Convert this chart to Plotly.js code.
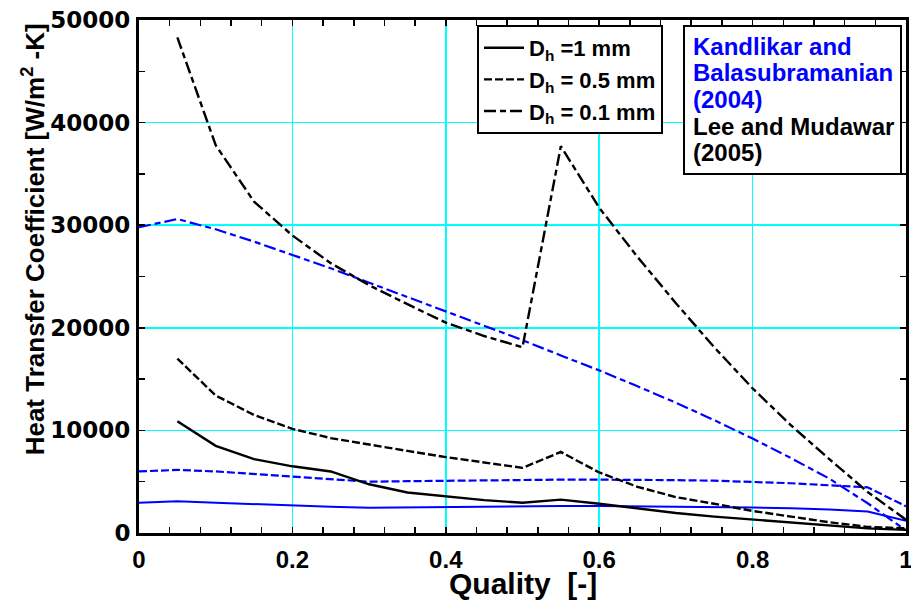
<!DOCTYPE html>
<html>
<head>
<meta charset="utf-8">
<script src="https://cdn.plot.ly/plotly-3.0.1.min.js"></script>
<style>html,body{margin:0;padding:0;background:#fff}#chart{width:911px;height:601px}</style>
</head>
<body>
<div id="chart"></div>
<script>
// Quality values
var xLee = [0.05,0.1,0.15,0.2,0.25,0.3,0.35,0.4,0.45,0.5,0.55,0.6,0.65,0.7,0.75,0.8,0.85,0.9,0.95,1.0];
var xKan = [0,0.05,0.1,0.15,0.2,0.25,0.3,0.35,0.4,0.45,0.5,0.55,0.6,0.65,0.7,0.75,0.8,0.85,0.9,0.95,1.0];

// Lee and Mudawar (2005)
var lee1  = [10900,8500,7200,6500,6000,4750,3950,3550,3200,2950,3250,2850,2400,1950,1600,1300,1000,700,450,300];
var lee05 = [17000,13400,11500,10150,9250,8600,8000,7400,6900,6350,7900,5900,4500,3500,2850,2150,1600,1050,600,450];
var lee01 = [48300,37800,32300,29000,26300,24150,22300,20500,19200,18100,37700,31700,26900,22400,18100,14100,10500,7200,4000,1300];

// Kandlikar and Balasubramanian (2004)
var kan1  = [2950,3100,2950,2800,2700,2550,2450,2500,2550,2600,2620,2640,2620,2600,2570,2530,2480,2420,2300,2100,1200];
var kan05 = [6000,6150,6000,5750,5450,5200,5000,5050,5100,5150,5200,5200,5200,5200,5150,5100,5000,4850,4650,4450,2600];
var kan01 = [29800,30600,29600,28400,27100,25800,24400,23000,21600,20200,18800,17300,15850,14300,12700,11000,9200,7300,5300,2900,250];

var legendNames = ['D<sub>h</sub> =1 mm','D<sub>h</sub> = 0.5 mm','D<sub>h</sub> = 0.1 mm'];
var noteLines = ['Kandlikar and','Balasubramanian','(2004)','Lee and Mudawar','(2005)'];
var noteColors = ['#0000ff','#0000ff','#0000ff','#000000','#000000'];
var xTickVals = [0,0.2,0.4,0.6,0.8,1];
var xTickText = ['0','0.2','0.4','0.6','0.8','1'];
var yTickVals = [0,10000,20000,30000,40000,50000];
var yTickText = ['0','10000','20000','30000','40000','50000'];

var BLUE = '#0000ff', BLACK = '#000000';
var DASH = '8px,3px', DASHDOT = '12px,4px,6px,4px';

var traces = [
  {x:xKan, y:kan1,  mode:'lines', line:{color:BLUE, width:2}, showlegend:false},
  {x:xKan, y:kan05, mode:'lines', line:{color:BLUE, width:2.2, dash:DASH}, showlegend:false},
  {x:xKan, y:kan01, mode:'lines', line:{color:BLUE, width:2.2, dash:DASHDOT}, showlegend:false},
  {x:xLee, y:lee1,  mode:'lines', name:legendNames[0], line:{color:BLACK, width:2.4}},
  {x:xLee, y:lee05, mode:'lines', name:legendNames[1], line:{color:BLACK, width:2.4, dash:DASH}},
  {x:xLee, y:lee01, mode:'lines', name:legendNames[2], line:{color:BLACK, width:2.4, dash:DASHDOT}}
];

var FONT = 'Liberation Sans, Arial, sans-serif';
var GRID = '#00ffff';
var axisCommon = {
  showline:true, linecolor:'#000', linewidth:3, mirror:'ticks',
  ticks:'inside', ticklen:6, tickwidth:1.5, tickcolor:'#000',
  showgrid:true, gridcolor:GRID, gridwidth:1.5,
  zeroline:false, tickmode:'array', ticklabeloverflow:'allow'
};
var minorCommon = {ticks:'inside', ticklen:6, tickwidth:1.5, tickcolor:'#000', showgrid:false, gridcolor:GRID};

// geometry helpers (pixels -> paper)
var plotL = 139, plotW = 767, plotB = 532.5, plotH = 512.5;
function px2x(p){ return (p - plotL) / plotW; }
function px2y(p){ return (plotB - p) / plotH; }

var annotations = [
  {xref:'paper', yref:'paper', x:px2x(792.5), y:px2y(100), xanchor:'center', yanchor:'middle',
   showarrow:false, text:' ', width:215, height:146, borderpad:0,
   bgcolor:'#fff', bordercolor:'#000', borderwidth:2},
  {xref:'paper', yref:'paper', x:0.5, y:px2y(583), xanchor:'center', yanchor:'middle',
   showarrow:false, font:{family:FONT, size:30, color:'#000', weight:'bold'},
   text:'Quality\u00a0\u00a0[-]'},
  {xref:'paper', yref:'paper', x:-0.138, y:0.5727, xanchor:'center', yanchor:'middle',
   showarrow:false, textangle:-90, font:{family:FONT, size:26, color:'#000', weight:'bold'},
   text:'Heat Transfer Coefficient [W/m<sup>2</sup> -K]'}
];
for (var i = 0; i < noteLines.length; i++) {
  annotations.push({xref:'paper', yref:'paper', x:px2x(691), y:px2y(46 + 26.7 * i),
    xanchor:'left', yanchor:'middle', showarrow:false, text:'<b>' + noteLines[i] + '</b>',
    font:{family:FONT, size:24, color:noteColors[i], weight:'bold'}});
}

var layout = {
  width:911, height:601,
  margin:{l:139, r:5, t:20, b:68},
  paper_bgcolor:'#fff', plot_bgcolor:'#fff',
  font:{family:FONT, color:'#000'},
  xaxis: Object.assign({}, axisCommon, {
    range:[0,1], tickvals:xTickVals, ticktext:xTickText, ticklabelstandoff:3,
    tickfont:{family:FONT, size:24, color:'#000', weight:'bold'},
    minor:Object.assign({dtick:0.04}, minorCommon)
  }),
  yaxis: Object.assign({}, axisCommon, {
    range:[0,50000], tickvals:yTickVals, ticktext:yTickText, ticklabelstandoff:1,
    tickfont:{family:'DejaVu Sans, ' + FONT, size:23, color:'#000', weight:'bold'},
    minor:Object.assign({dtick:5000}, minorCommon)
  }),
  showlegend:true,
  legend:{
    x:px2x(477), y:px2y(25), xanchor:'left', yanchor:'top',
    bgcolor:'#fff', bordercolor:'#000', borderwidth:2,
    font:{family:FONT, size:22, color:'#000', weight:'bold'},
    traceorder:'normal', itemwidth:40
  },
  annotations:annotations
};

Plotly.newPlot('chart', traces, layout, {displayModeBar:false, staticPlot:true});
</script>
</body>
</html>
